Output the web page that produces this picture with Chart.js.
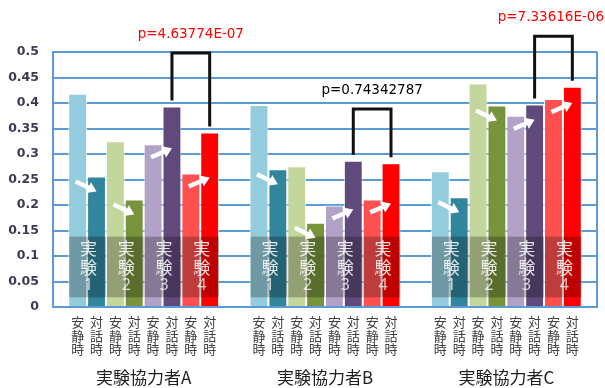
<!DOCTYPE html>
<html>
<head>
<meta charset="utf-8">
<script src="https://cdn.jsdelivr.net/npm/chart.js@4"></script>
<style>
  html, body { margin: 0; padding: 0; background: #fff; }
  #wrap { width: 605px; height: 388px; }
</style>
</head>
<body>
<div id="wrap"><canvas id="grafico" width="605" height="388"></canvas></div>
<script>
    // Categorias (participantes) e rótulos
    const categorias = ['実験協力者A', '実験協力者B', '実験協力者C'];
    const condicoes = ['安静時', '対話時'];
    const yTickLabels = ['0', '0.05', '0.1', '0.15', '0.2', '0.25', '0.3', '0.35', '0.4', '0.45', '0.5'];

    const rest1 = [0.418, 0.396, 0.266];
    const talk1 = [0.256, 0.270, 0.215];
    const rest2 = [0.325, 0.276, 0.438];
    const talk2 = [0.211, 0.165, 0.395];
    const rest3 = [0.319, 0.199, 0.375];
    const talk3 = [0.393, 0.287, 0.397];
    const rest4 = [0.262, 0.211, 0.408];
    const talk4 = [0.342, 0.282, 0.432];

    // Valores-p e altura dos colchetes
    const pTexts = ['p=4.63774E-07', 'p=0.74342787', 'p=7.33616E-06'];
    const pColors = ['#ff0000', '#000000', '#ff0000'];
    const bracketTop = [0.498, 0.388, 0.531];

    const series = [rest1, talk1, rest2, talk2, rest3, talk3, rest4, talk4];
    const cores = ['#93cddd', '#31859c', '#c3d69b', '#77933c', '#b3a2c7', '#604a7b', '#ff5050', '#ff0000'];

    const azul = '#5b9bd5';

    function seta(ctx, x1, y1, x2, y2) {
        const ang = Math.atan2(y2 - y1, x2 - x1);
        const len = Math.hypot(x2 - x1, y2 - y1);
        const hl = 9, hw = 6, sw = 2.2;
        ctx.save();
        ctx.translate(x1, y1);
        ctx.rotate(ang);
        ctx.beginPath();
        ctx.moveTo(0, -sw);
        ctx.lineTo(len - hl, -sw);
        ctx.lineTo(len - hl, -hw);
        ctx.lineTo(len, 0);
        ctx.lineTo(len - hl, hw);
        ctx.lineTo(len - hl, sw);
        ctx.lineTo(0, sw);
        ctx.closePath();
        ctx.fillStyle = '#ffffff';
        ctx.fill();
        ctx.restore();
    }

    // Desenha caixas 実験, setas, rótulos das barras e colchetes
    const extras = {
        id: 'extras',
        afterDatasetsDraw(chart) {
            const ctx = chart.ctx;
            const x = chart.scales.x;
            const y = chart.scales.y;
            const area = chart.chartArea;
            const metas = series.map((s, i) => chart.getDatasetMeta(i));

            ctx.save();
            // borda direita
            ctx.strokeStyle = azul;
            ctx.lineWidth = 2;
            ctx.beginPath();
            ctx.moveTo(area.right, area.top);
            ctx.lineTo(area.right, area.bottom);
            ctx.stroke();

            for (let g = 0; g < categorias.length; g++) {
                for (let e = 0; e < 4; e++) {
                    const a = metas[2 * e].data[g];
                    const b = metas[2 * e + 1].data[g];
                    const left = a.x - a.width / 2 + 1;
                    const right = b.x + b.width / 2;
                    const top = y.getPixelForValue(0.138);
                    const bottom = y.getPixelForValue(0.019);
                    ctx.fillStyle = 'rgba(0,0,0,0.25)';
                    ctx.fillRect(left, top, right - left, bottom - top);

                    const cx = (left + right) / 2 + 1;
                    ctx.fillStyle = 'rgba(255,255,255,0.85)';
                    ctx.textAlign = 'center';
                    ctx.textBaseline = 'middle';
                    ctx.font = '17px "Noto Sans CJK JP"';
                    ctx.fillText('実', cx, top + 12);
                    ctx.fillText('験', cx, top + 30.5);
                    ctx.font = '16px "Noto Sans"';
                    ctx.fillStyle = 'rgba(255,255,255,0.75)';
                    ctx.fillText(String(e + 1), cx, top + 49);

                    // seta do repouso para o diálogo
                    const sobe = b.y < a.y;
                    const low = Math.max(a.y, b.y);
                    if (sobe) {
                        seta(ctx, a.x - 2, low + 13, b.x, low + 4);
                    } else {
                        seta(ctx, a.x - 2, low + 5, b.x, low + 15);
                    }
                }

                // rótulos verticais de cada barra
                ctx.fillStyle = '#404040';
                ctx.font = '13px "Noto Sans CJK JP"';
                ctx.textAlign = 'center';
                ctx.textBaseline = 'middle';
                metas.forEach((m, i) => {
                    const bar = m.data[g];
                    const txt = condicoes[i % 2];
                    for (let k = 0; k < txt.length; k++) {
                        ctx.fillText(txt[k], bar.x, area.bottom + 15.5 + k * 13.5);
                    }
                });

                // nome do participante
                ctx.fillStyle = '#202020';
                ctx.font = '17px "Noto Sans CJK JP"';
                ctx.fillText(categorias[g], x.getPixelForValue(g), area.bottom + 71);

                // colchete entre 実験3 e 実験4 (対話時)
                const p3 = metas[5].data[g];
                const p4 = metas[7].data[g];
                const ty = y.getPixelForValue(bracketTop[g]);
                ctx.strokeStyle = '#111111';
                ctx.lineWidth = 3;
                ctx.lineJoin = 'miter';
                ctx.beginPath();
                ctx.moveTo(p3.x, p3.y - 6);
                ctx.lineTo(p3.x, ty);
                ctx.lineTo(p4.x, ty);
                ctx.lineTo(p4.x, p4.y - 6);
                ctx.stroke();

                ctx.fillStyle = pColors[g];
                ctx.font = '13.5px "DejaVu Sans"';
                ctx.textAlign = 'center';
                ctx.textBaseline = 'middle';
                const w = ctx.measureText(pTexts[g]).width;
                const tx = Math.min((p3.x + p4.x) / 2, chart.width - w / 2 - 1);
                ctx.fillText(pTexts[g], tx, ty - 19);
            }
            ctx.restore();
        }
    };

    const ctx = document.getElementById('grafico').getContext('2d');

    const grafico = new Chart(ctx, {
        type: 'bar',
        data: {
            labels: categorias,
            datasets: series.map((s, i) => ({
                label: condicoes[i % 2] + (Math.floor(i / 2) + 1),
                data: s,
                backgroundColor: cores[i],
                borderColor: 'rgba(255,255,255,0.75)',
                borderWidth: 1,
                categoryPercentage: 0.832,
                barPercentage: 1.0
            }))
        },
        options: {
            responsive: false,
            animation: false,
            layout: { padding: { top: 52, right: 8, left: 0, bottom: 0 } },
            plugins: {
                legend: { display: false },
                tooltip: { enabled: false }
            },
            scales: {
                x: {
                    grid: { display: false, drawTicks: false },
                    border: { color: azul, width: 2 },
                    ticks: { display: false },
                    afterFit(scale) { scale.height = 81; }
                },
                y: {
                    min: 0,
                    max: 0.5,
                    ticks: {
                        stepSize: 0.05,
                        padding: 14,
                        color: '#3b3b4f',
                        font: { family: '"DejaVu Sans"', size: 12.5, weight: 'bold' },
                        callback: (v, i) => yTickLabels[i]
                    },
                    grid: { color: azul, lineWidth: 2, drawTicks: false },
                    border: { color: azul, width: 2 },
                    afterFit(scale) { scale.width = 53; }
                }
            }
        },
        plugins: [extras]
    });
</script>
</body>
</html>
